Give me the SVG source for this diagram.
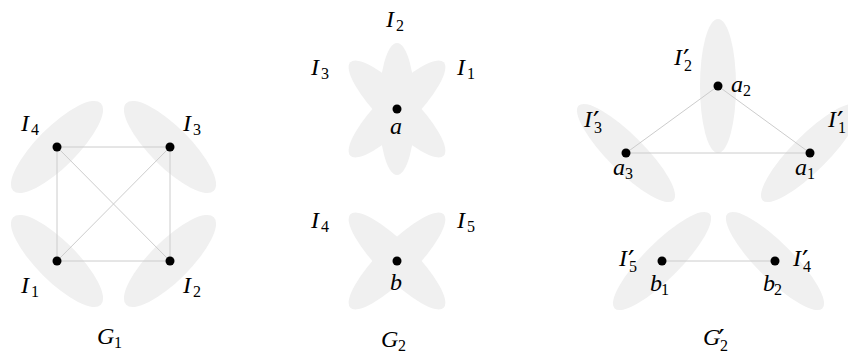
<svg xmlns="http://www.w3.org/2000/svg" width="848" height="358" viewBox="0 0 848 358">
<style>
.blob{fill:#f0f0f0;stroke:none}
.edge{stroke:#cccccc;stroke-width:1;fill:none}
.dot{fill:#000}
.m{font-family:"Liberation Serif","DejaVu Serif",serif;font-style:italic;font-size:24px;fill:#000}
.s{font-family:"Liberation Serif","DejaVu Serif",serif;font-style:normal;font-size:16px}
.p{font-family:"DejaVu Sans",sans-serif;font-style:normal;font-size:29px}
</style>
<rect width="848" height="358" fill="#fff"/>

<g id="G1-regions">
<ellipse class="blob" cx="57" cy="147" rx="62" ry="20" transform="rotate(-45 57 147)"/>
<ellipse class="blob" cx="170" cy="147" rx="62" ry="20" transform="rotate(45 170 147)"/>
<ellipse class="blob" cx="57" cy="261" rx="62" ry="20" transform="rotate(45 57 261)"/>
<ellipse class="blob" cx="170" cy="261" rx="62" ry="20" transform="rotate(-45 170 261)"/>
</g>
<g id="G2-regions">
<ellipse class="blob" cx="397" cy="109" rx="66" ry="18" transform="rotate(90 397 109)"/>
<ellipse class="blob" cx="397" cy="109" rx="66" ry="18" transform="rotate(45 397 109)"/>
<ellipse class="blob" cx="397" cy="109" rx="66" ry="18" transform="rotate(-45 397 109)"/>
<ellipse class="blob" cx="397" cy="261" rx="66" ry="18" transform="rotate(45 397 261)"/>
<ellipse class="blob" cx="397" cy="261" rx="66" ry="18" transform="rotate(-45 397 261)"/>
</g>
<g id="G2p-regions">
<ellipse class="blob" cx="718" cy="86" rx="67" ry="18" transform="rotate(90 718 86)"/>
<ellipse class="blob" cx="626" cy="153" rx="67" ry="18" transform="rotate(45 626 153)"/>
<ellipse class="blob" cx="810" cy="153" rx="67" ry="18" transform="rotate(-45 810 153)"/>
<ellipse class="blob" cx="662" cy="261" rx="67" ry="18" transform="rotate(-45 662 261)"/>
<ellipse class="blob" cx="775" cy="261" rx="67" ry="18" transform="rotate(45 775 261)"/>
</g>

<g id="connectors">
<line class="edge" x1="57" y1="147" x2="170" y2="147"/>
<line class="edge" x1="57" y1="261" x2="170" y2="261"/>
<line class="edge" x1="57" y1="147" x2="57" y2="261"/>
<line class="edge" x1="170" y1="147" x2="170" y2="261"/>
<line class="edge" x1="57" y1="147" x2="170" y2="261"/>
<line class="edge" x1="170" y1="147" x2="57" y2="261"/>
<line class="edge" x1="718" y1="86" x2="626" y2="153"/>
<line class="edge" x1="718" y1="86" x2="810" y2="153"/>
<line class="edge" x1="626" y1="153" x2="810" y2="153"/>
<line class="edge" x1="662" y1="261" x2="775" y2="261"/>
</g>

<g id="n-I4"><circle class="dot" cx="57" cy="147" r="4.5"/><text class="m" x="21" y="131">I<tspan class="s" x="31" y="135">4</tspan></text></g>
<g id="n-I3"><circle class="dot" cx="170" cy="147" r="4.5"/><text class="m" x="183" y="131">I<tspan class="s" x="193" y="135">3</tspan></text></g>
<g id="n-I1"><circle class="dot" cx="57" cy="261" r="4.5"/><text class="m" x="21" y="293">I<tspan class="s" x="31" y="297">1</tspan></text></g>
<g id="n-I2"><circle class="dot" cx="170" cy="261" r="4.5"/><text class="m" x="183" y="293">I<tspan class="s" x="193" y="297">2</tspan></text></g>
<g id="label-G1"><text class="m" x="97" y="344">G<tspan class="s" x="114" y="348">1</tspan></text></g>

<g id="n-a"><circle class="dot" cx="397" cy="109" r="4.5"/><text class="m" x="390" y="134">a</text></g>
<g id="lab-G2-I2"><text class="m" x="386" y="27">I<tspan class="s" x="396" y="31">2</tspan></text></g>
<g id="lab-G2-I3"><text class="m" x="311" y="75">I<tspan class="s" x="321" y="79">3</tspan></text></g>
<g id="lab-G2-I1"><text class="m" x="457" y="75">I<tspan class="s" x="467" y="79">1</tspan></text></g>
<g id="n-b"><circle class="dot" cx="397" cy="261" r="4.5"/><text class="m" x="390" y="290">b</text></g>
<g id="lab-G2-I4"><text class="m" x="311" y="228">I<tspan class="s" x="321" y="232">4</tspan></text></g>
<g id="lab-G2-I5"><text class="m" x="457" y="228">I<tspan class="s" x="467" y="232">5</tspan></text></g>
<g id="label-G2"><text class="m" x="381" y="347">G<tspan class="s" x="398" y="351">2</tspan></text></g>

<g id="n-a2"><circle class="dot" cx="718" cy="86" r="4.5"/><text class="m" x="731" y="92">a<tspan class="s" x="743" y="96">2</tspan></text>
<text class="m" x="674" y="65">I<tspan class="p" x="683" y="70">′</tspan><tspan class="s" x="684" y="71">2</tspan></text></g>
<g id="n-a3"><circle class="dot" cx="626" cy="153" r="4.5"/><text class="m" x="613" y="175">a<tspan class="s" x="625" y="179">3</tspan></text>
<text class="m" x="584" y="127">I<tspan class="p" x="593" y="132">′</tspan><tspan class="s" x="594" y="133">3</tspan></text></g>
<g id="n-a1"><circle class="dot" cx="810" cy="153" r="4.5"/><text class="m" x="795" y="175">a<tspan class="s" x="807" y="179">1</tspan></text>
<text class="m" x="828" y="127">I<tspan class="p" x="837" y="132">′</tspan><tspan class="s" x="838" y="133">1</tspan></text></g>
<g id="n-b1"><circle class="dot" cx="662" cy="261" r="4.5"/><text class="m" x="650" y="291">b<tspan class="s" x="661" y="295">1</tspan></text>
<text class="m" x="619" y="266">I<tspan class="p" x="628" y="271">′</tspan><tspan class="s" x="629" y="272">5</tspan></text></g>
<g id="n-b2"><circle class="dot" cx="775" cy="261" r="4.5"/><text class="m" x="763" y="291">b<tspan class="s" x="774" y="295">2</tspan></text>
<text class="m" x="793" y="266">I<tspan class="p" x="802" y="271">′</tspan><tspan class="s" x="803" y="272">4</tspan></text></g>
<g id="label-G2p"><text class="m" x="703" y="345">G<tspan class="p" x="718" y="350">′</tspan><tspan class="s" x="720" y="351">2</tspan></text></g>
</svg>
